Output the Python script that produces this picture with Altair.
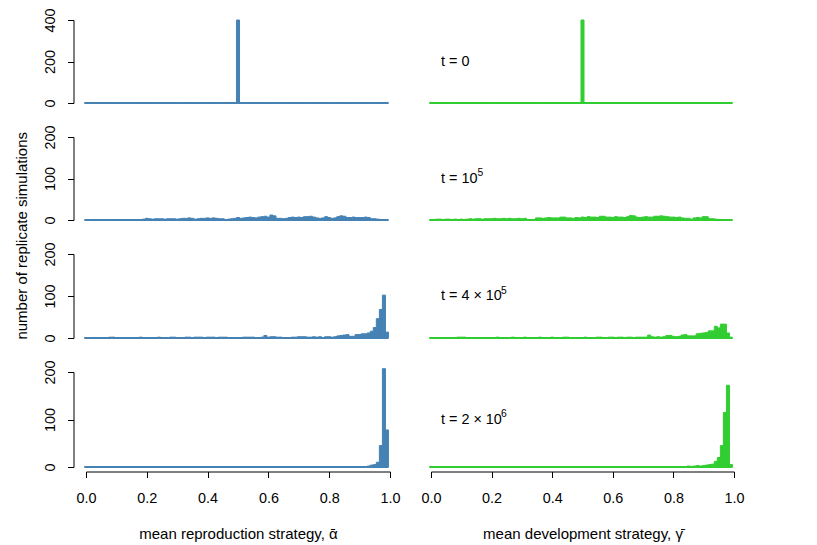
import altair as alt
import pandas as pd

FONT = "Liberation Sans"
FS = 14.4
FS_TITLE = 15
BLUE = "#4682B4"
GREEN = "#32CD32"

# bin centres of the histograms (width 0.01)
bin_centers = [i / 100 for i in range(100)]
HALF = 0.005
x_ticks = [0.0, 0.2, 0.4, 0.6, 0.8, 1.0]

# ---- counts per bin: mean reproduction strategy (alpha) ----
alpha_t0 = [0] * 50 + [400] + [0] * 49
alpha_t1 = [0, 0, 0, 0, 0, 0, 0, 0, 0, 1,
            1, 1, 1, 1, 0, 1, 1, 1, 1, 2,
            4, 3, 2, 3, 3, 3, 2, 3, 3, 3,
            2, 3, 4, 4, 5, 4, 2, 3, 4, 4,
            5, 4, 5, 4, 3, 3, 1, 2, 3, 4,
            6, 4, 5, 6, 7, 6, 5, 7, 8, 9,
            7, 12, 10, 4, 4, 3, 4, 6, 7, 6,
            7, 6, 8, 8, 9, 7, 5, 4, 5, 8,
            6, 4, 5, 8, 10, 9, 6, 6, 7, 6,
            6, 6, 7, 6, 3, 3, 2, 1, 0, 0]
alpha_t2 = [1, 1, 1, 1, 1, 1, 1, 1, 2, 2,
            1, 1, 1, 1, 1, 1, 1, 1, 2, 1,
            1, 1, 1, 1, 2, 1, 1, 1, 2, 2,
            1, 1, 1, 2, 2, 1, 2, 2, 2, 1,
            2, 2, 2, 1, 2, 2, 2, 1, 1, 1,
            1, 1, 2, 2, 2, 2, 1, 1, 2, 6,
            2, 3, 3, 2, 2, 1, 1, 1, 2, 2,
            3, 3, 3, 2, 2, 3, 2, 3, 1, 3,
            3, 2, 3, 5, 6, 7, 8, 4, 4, 8,
            8, 10, 10, 12, 16, 25, 46, 68, 102, 14]
alpha_t3 = [0] * 80 + [0, 0, 1, 0, 0, 1, 0, 1, 1, 0,
                       1, 1, 1, 2, 4, 5, 10, 45, 207, 78]

# ---- counts per bin: mean development strategy (gamma) ----
gamma_t0 = [0] * 50 + [400] + [0] * 49
gamma_t1 = [0, 1, 2, 2, 1, 2, 2, 1, 2, 1,
            2, 1, 2, 3, 2, 3, 3, 2, 3, 3,
            3, 4, 3, 3, 4, 3, 4, 3, 3, 4,
            3, 4, 1, 1, 1, 5, 5, 4, 5, 6,
            5, 5, 5, 7, 7, 5, 5, 4, 6, 5,
            7, 6, 8, 7, 7, 6, 9, 9, 7, 7,
            6, 8, 7, 7, 6, 8, 11, 10, 7, 6,
            7, 8, 7, 7, 9, 9, 10, 9, 8, 7,
            7, 6, 7, 5, 4, 4, 2, 5, 6, 5,
            8, 8, 3, 3, 2, 0, 0, 0, 0, 0]
gamma_t2 = [1, 1, 1, 1, 1, 1, 1, 1, 1, 2,
            2, 2, 1, 1, 1, 1, 1, 1, 1, 1,
            1, 1, 2, 1, 1, 1, 1, 2, 1, 1,
            1, 2, 1, 1, 1, 1, 2, 1, 1, 1,
            2, 1, 1, 1, 2, 2, 1, 1, 1, 1,
            1, 2, 1, 1, 1, 2, 2, 1, 1, 2,
            2, 1, 2, 2, 1, 2, 2, 1, 2, 2,
            2, 2, 7, 3, 2, 3, 2, 3, 6, 6,
            4, 3, 4, 7, 8, 5, 5, 5, 10, 11,
            12, 13, 17, 17, 28, 24, 33, 33, 12, 2]
gamma_t3 = [0] * 35 + [1] + [0] * 18 + [1] + [0] * 7 + [1] + [0] * 3 + [1] + [0] * 4 + \
           [1, 0, 0, 0, 1, 0, 0, 1, 0, 0, 1, 0, 0, 0, 2, 0, 2, 3, 2,
            3, 4, 5, 6, 12, 20, 45, 115, 172, 5]

labels = ["t = 0", "t = 10", "t = 4 \u00d7 10", "t = 2 \u00d7 10"]
exponents = ["", "5", "5", "6"]
exp_dx = [0, 36.5, 60, 60]

row_ymax = [400, 200, 200, 200]
row_yticks = [[0, 200, 400], [0, 100, 200], [0, 100, 200], [0, 100, 200]]
row_height = [83, 83, 84, 95]
LEFT_W = 304
RIGHT_W = 303


def panel(counts, color, row, left, bottom, xtitle=None, ytitle=None):
    ymax = row_ymax[row]
    width = LEFT_W if left else RIGHT_W
    df = pd.DataFrame({
        "lo": [c - HALF for c in bin_centers],
        "hi": [c + HALF for c in bin_centers],
        "n": counts,
    })
    xs = alt.Scale(domain=[0, 1], nice=False, zero=False)
    ys = alt.Scale(domain=[0, ymax], nice=False)
    if bottom:
        xaxis = alt.Axis(values=x_ticks, format=".1f", offset=4.5, tickSize=6,
                         labelPadding=14, labelBaseline="top", labelFlush=False,
                         title=xtitle, titleY=66.5, titleBaseline="alphabetic",
                         titleAlign="center", titleFontSize=FS_TITLE)
    else:
        xaxis = None
    if left:
        yargs = dict(values=row_yticks[row], format="d", offset=12.5, tickSize=6,
                     labelAngle=270, labelAlign="center", labelBaseline="alphabetic",
                     labelPadding=13, labelFlush=False, title=ytitle)
        if ytitle:
            yargs.update(titleAngle=270, titleX=-47.5, titleY=98.3,
                         titleAlign="center", titleBaseline="alphabetic",
                         titleFontSize=FS_TITLE)
        yaxis = alt.Axis(**yargs)
    else:
        yaxis = None

    bars = alt.Chart(df).mark_bar(color=color, stroke=color, strokeWidth=1).encode(
        x=alt.X("lo:Q", scale=xs, axis=xaxis),
        x2="hi:Q",
        y=alt.Y("n:Q", scale=ys, axis=yaxis),
        y2=alt.datum(0),
    )
    base_df = pd.DataFrame({"lo": [min(df["lo"])], "hi": [max(df["hi"])], "n": [0]})
    baseline = alt.Chart(base_df).mark_rule(color=color, strokeWidth=2).encode(
        x=alt.X("lo:Q", scale=xs, axis=xaxis),
        x2="hi:Q",
        y=alt.Y("n:Q", scale=ys, axis=yaxis),
    )
    layers = [baseline, bars]
    if not left:
        ldf = pd.DataFrame({"lo": [0.033], "n": [ymax / 2], "t": [labels[row]],
                            "e": [exponents[row]]})
        lab = alt.Chart(ldf).mark_text(align="left", baseline="middle", font=FONT,
                                       fontSize=FS, color="black").encode(
            x=alt.X("lo:Q", scale=xs, axis=xaxis),
            y=alt.Y("n:Q", scale=ys, axis=yaxis),
            text="t:N",
        )
        layers.append(lab)
        if exponents[row]:
            ex = alt.Chart(ldf).mark_text(align="left", baseline="middle", font=FONT,
                                          fontSize=10.3, color="black",
                                          dx=exp_dx[row], dy=-5.5).encode(
                x=alt.X("lo:Q", scale=xs, axis=xaxis),
                y=alt.Y("n:Q", scale=ys, axis=yaxis),
                text="e:N",
            )
            layers.append(ex)
    return alt.layer(*layers).properties(width=width, height=row_height[row])


alpha_rows = [alpha_t0, alpha_t1, alpha_t2, alpha_t3]
gamma_rows = [gamma_t0, gamma_t1, gamma_t2, gamma_t3]

cells = []
for r in range(4):
    cells.append(panel(alpha_rows[r], BLUE, r, True, r == 3,
                       xtitle="mean reproduction strategy, \u1fb1",
                       ytitle="number of replicate simulations" if r == 1 else None))
    cells.append(panel(gamma_rows[r], GREEN, r, False, r == 3,
                       xtitle="mean development strategy, \u03b3\u0304"))

chart = (
    alt.concat(*cells, columns=2, spacing={"row": 34, "column": 41}, bounds="flush")
    .resolve_scale(x="independent", y="independent")
    .properties(padding={"left": 5, "top": -1, "right": 5, "bottom": 2})
    .configure(font=FONT)
    .configure_view(stroke=None)
    .configure_axis(grid=False, domainColor="black", tickColor="black",
                    labelColor="black", titleColor="black", labelFont=FONT,
                    titleFont=FONT, labelFontSize=FS, titleFontSize=FS,
                    titleFontWeight="normal", domainWidth=1, tickWidth=1)
)

chart.save("out.html", embed_options={"renderer": "svg", "actions": False})
